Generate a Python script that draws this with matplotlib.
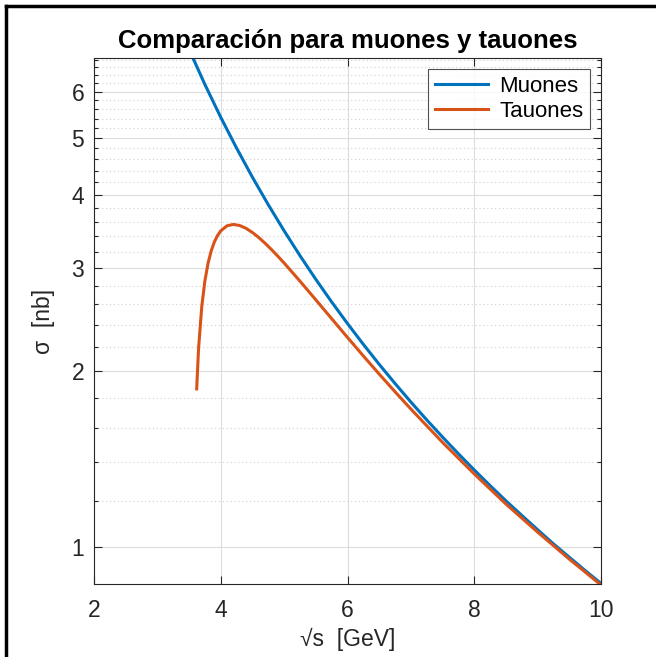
import matplotlib
matplotlib.use("Agg")
import matplotlib.pyplot as plt
from matplotlib.ticker import FixedLocator, NullFormatter

plt.rcParams['font.family'] = ['Liberation Sans', 'DejaVu Sans']

# sqrt(s) in GeV and cross sections in nb
x_muones = [3.5, 3.75, 4.0, 4.25, 4.5, 4.75, 5.0, 5.25, 5.5, 5.75, 6.0, 6.25, 6.5,
            6.75, 7.0, 7.25, 7.5, 7.75, 8.0, 8.25, 8.5, 8.75, 9.0, 9.25, 9.5, 9.75, 10.0]
sigma_muones = [7.086, 6.172, 5.425, 4.806, 4.286, 3.847, 3.472, 3.149, 2.869, 2.625,
                2.411, 2.222, 2.054, 1.905, 1.771, 1.651, 1.543, 1.445, 1.356, 1.275,
                1.201, 1.134, 1.072, 1.014, 0.962, 0.913, 0.868]

x_tauones = [3.62, 3.65, 3.70, 3.75, 3.80, 3.85, 3.90, 3.95, 4.0, 4.1, 4.2, 4.3, 4.4,
             4.5, 4.6, 4.7, 4.8, 4.9, 5.0, 5.25, 5.5, 5.75, 6.0, 6.25, 6.5, 6.75, 7.0,
             7.5, 8.0, 8.5, 9.0, 9.5, 10.0]
sigma_tauones = [1.865, 2.188, 2.577, 2.854, 3.058, 3.211, 3.326, 3.410, 3.472, 3.542,
                 3.561, 3.545, 3.506, 3.449, 3.382, 3.306, 3.226, 3.143, 3.059, 2.849,
                 2.647, 2.458, 2.283, 2.123, 1.977, 1.844, 1.723, 1.511, 1.335, 1.186,
                 1.062, 0.955, 0.8625]

y_ticks = [1, 2, 3, 4, 5, 6]
y_minor = [1.2, 1.4, 1.6, 1.8, 2.2, 2.4, 2.6, 2.8, 3.2, 3.4, 3.6, 3.8,
           4.2, 4.4, 4.6, 4.8, 5.2, 5.4, 5.6, 5.8, 6.2, 6.4, 6.6, 6.8]
x_ticks = [2, 4, 6, 8, 10]

fig = plt.figure(figsize=(6.56, 6.57), dpi=100)
ax = fig.add_axes([0.1433, 0.1111, 0.7729, 0.8006])

ax.plot(x_muones, sigma_muones, color='#0072BD', lw=2.2, label='Muones')
ax.plot(x_tauones, sigma_tauones, color='#D95319', lw=2.2, label='Tauones')

ax.set_yscale('log')
ax.set_xlim(2, 10)
ax.set_ylim(0.866, 6.85)

ax.set_xticks(x_ticks)
ax.set_xticklabels([str(v) for v in x_ticks])
ax.yaxis.set_major_locator(FixedLocator(y_ticks))
ax.set_yticklabels([str(v) for v in y_ticks])
ax.yaxis.set_minor_locator(FixedLocator(y_minor))
ax.yaxis.set_minor_formatter(NullFormatter())

ax.grid(True, which='major', color='#dcdcdc', lw=0.8)
ax.grid(True, which='minor', axis='y', color='#d0d0d0', lw=0.8, linestyle=(0, (1, 2.5)))
ax.set_axisbelow(True)

ax.tick_params(which='both', direction='in', top=True, right=True,
               labelsize=16.5, colors='#262626', width=0.8)
ax.tick_params(which='major', length=6)
ax.tick_params(which='minor', length=3)
ax.tick_params(axis='x', pad=11)
ax.tick_params(axis='y', pad=7)
for s in ax.spines.values():
    s.set_color('#262626')
    s.set_linewidth(0.8)

ax.set_xlabel('\u221as  [GeV]', fontsize=16.5, color='#262626', labelpad=4)
ax.set_ylabel('\u03c3  [nb]', fontsize=16.5, color='#262626', labelpad=12)
ax.set_title('Comparación para muones y tauones', fontsize=18.5, fontweight='bold', pad=7)

leg = ax.legend(loc='upper right', fontsize=16, frameon=True, fancybox=False,
                handlelength=2.4, borderaxespad=0.5, handletextpad=0.5,
                labelspacing=0.2, borderpad=0.3)
leg.get_frame().set_edgecolor('#262626')
leg.get_frame().set_linewidth(0.8)

# black border around the figure
fig.add_artist(plt.Line2D([6 / 656, 6 / 656], [0, 1 - 6 / 657], color='black', lw=2.5,
                          transform=fig.transFigure))
fig.add_artist(plt.Line2D([6 / 656, 1], [1 - 6 / 657, 1 - 6 / 657], color='black', lw=2.5,
                          transform=fig.transFigure))

fig.savefig('out.png', dpi=100)
